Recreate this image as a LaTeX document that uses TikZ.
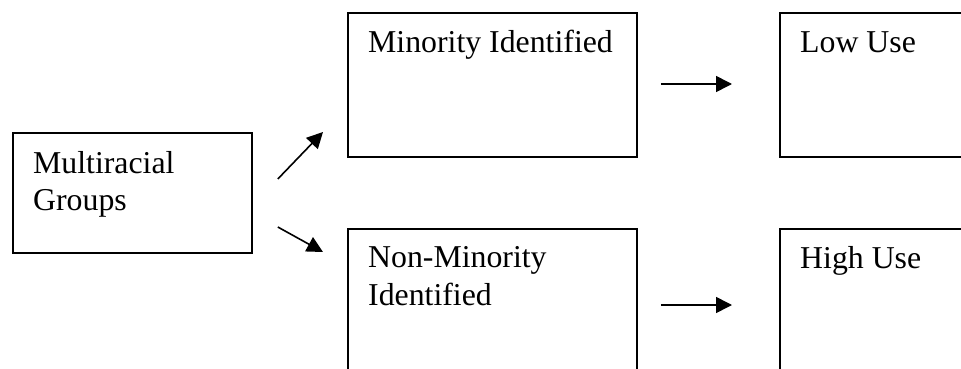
\documentclass[tikz,border=0pt]{standalone}
\usepackage{fontspec}
\setmainfont{Liberation Serif}
\usetikzlibrary{arrows.meta}
\begin{document}
\begin{tikzpicture}[x=1pt,y=-1pt,
  boxnode/.style={draw, line width=1.8pt, rectangle, anchor=north west, inner sep=0pt},
  txt/.style={anchor=base west, inner sep=0pt, align=left, font=\fontsize{31.8}{37.5}\selectfont},
  arr/.style={line width=1.6pt, -{Triangle[length=16pt,width=16pt]}}]
\useasboundingbox (0,0) rectangle (961,369);
\clip (0,0) rectangle (961,369);
\node[boxnode, minimum width=239pt, minimum height=120pt] (multi) at (12,132) {};
\node[boxnode, minimum width=289pt, minimum height=144pt] (minor) at (347,12) {};
\node[boxnode, minimum width=240pt, minimum height=144pt] (low) at (779,12) {};
\node[boxnode, minimum width=289pt, minimum height=200pt] (nonmin) at (347,228) {};
\node[boxnode, minimum width=240pt, minimum height=200pt] (high) at (779,228) {};
\node[txt] (tmulti) at ([shift={(21,78.5)}]multi.north west) {Multiracial\\Groups};
\node[txt] (tminor) at ([shift={(21,41)}]minor.north west) {Minority Identified};
\node[txt] (tlow) at ([shift={(21,41)}]low.north west) {Low Use};
\node[txt] (tnonmin) at ([shift={(21,77)}]nonmin.north west) {Non-Minority\\Identified};
\node[txt] (thigh) at ([shift={(21,40)}]high.north west) {High Use};
\coordinate (a1s) at ([shift={(25,47)}]multi.north east);
\coordinate (a1e) at ([shift={(-24,0)}]multi.north east -| minor.west);
\coordinate (a2s) at ([shift={(25,95)}]multi.north east);
\coordinate (a2e) at ([shift={(-24,24)}]nonmin.north west);
\coordinate (a3s) at ([shift={(23,72)}]minor.north east);
\coordinate (a3e) at ([shift={(-47,72)}]low.north west);
\coordinate (a4s) at ([shift={(23,77)}]nonmin.north east);
\coordinate (a4e) at ([shift={(-47,77)}]high.north west);
\draw[arr] (a1s) -- (a1e);
\draw[arr] (a2s) -- (a2e);
\draw[arr] (a3s) -- (a3e);
\draw[arr] (a4s) -- (a4e);
\end{tikzpicture}
\end{document}
